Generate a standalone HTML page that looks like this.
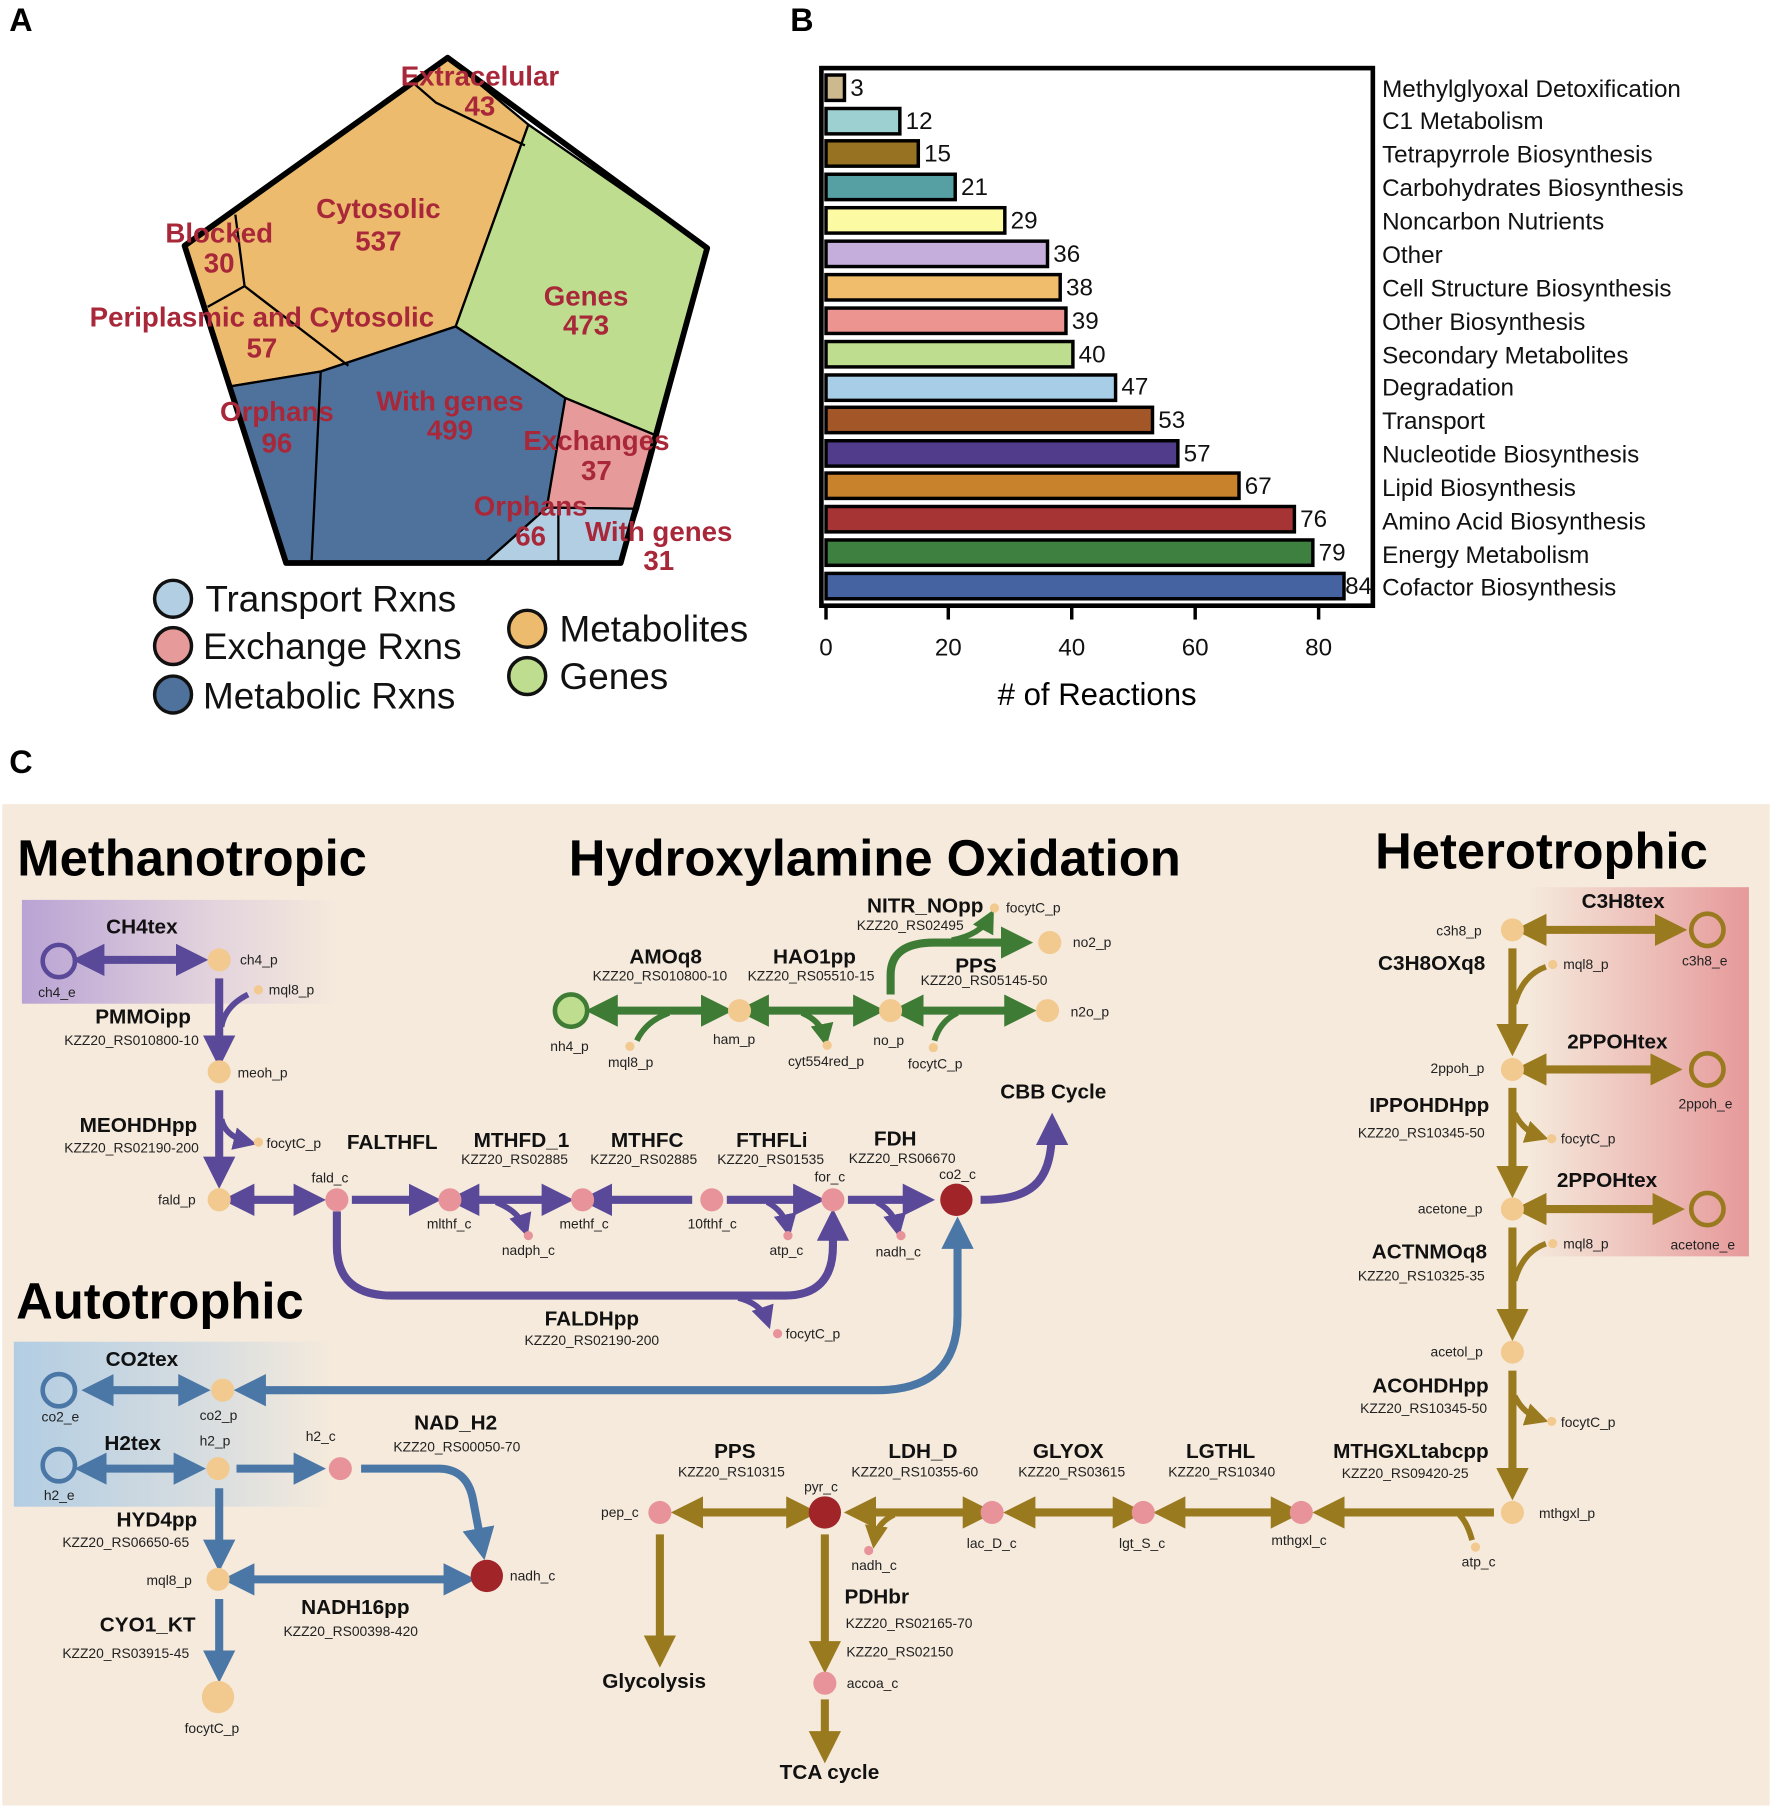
<!DOCTYPE html>
<html><head><meta charset="utf-8"><style>
html,body{margin:0;padding:0;background:#fff;}
svg{display:block;}
text{font-family:"Liberation Sans",Arial,sans-serif;}
.rl{fill:#a8283a;font-weight:bold;font-size:24px;text-anchor:middle;}
.lg{font-size:32px;fill:#111;}
.bl{font-size:21px;fill:#111;}
.t{font-weight:bold;font-size:18px;fill:#111;text-anchor:middle;}
.g{font-size:12px;fill:#222;text-anchor:middle;}
.m{font-size:12px;fill:#222;}
.h{font-weight:bold;font-size:44px;fill:#000;}
</style></head><body>
<svg width="1772" height="1809" viewBox="0 0 1536 1568" xmlns="http://www.w3.org/2000/svg">
<defs>
<marker id="aP" markerWidth="4" markerHeight="4" refX="2.5" refY="2" orient="auto"><path d="M0,0L4,2L0,4z" fill="#5a4898"/></marker>
<marker id="aG" markerWidth="4" markerHeight="4" refX="2.5" refY="2" orient="auto"><path d="M0,0L4,2L0,4z" fill="#3e7b35"/></marker>
<marker id="aB" markerWidth="4" markerHeight="4" refX="2.5" refY="2" orient="auto"><path d="M0,0L4,2L0,4z" fill="#4a77a6"/></marker>
<marker id="aO" markerWidth="4" markerHeight="4" refX="2.5" refY="2" orient="auto"><path d="M0,0L4,2L0,4z" fill="#9a7a1f"/></marker>
<marker id="sP" markerWidth="4" markerHeight="4" refX="1.5" refY="2" orient="auto-start-reverse"><path d="M0,0L4,2L0,4z" fill="#5a4898"/></marker>
<marker id="sG" markerWidth="4" markerHeight="4" refX="1.5" refY="2" orient="auto-start-reverse"><path d="M0,0L4,2L0,4z" fill="#3e7b35"/></marker>
<marker id="sB" markerWidth="4" markerHeight="4" refX="1.5" refY="2" orient="auto-start-reverse"><path d="M0,0L4,2L0,4z" fill="#4a77a6"/></marker>
<marker id="sO" markerWidth="4" markerHeight="4" refX="1.5" refY="2" orient="auto-start-reverse"><path d="M0,0L4,2L0,4z" fill="#9a7a1f"/></marker>
<linearGradient id="gP" x1="0" x2="1"><stop offset="0" stop-color="#b9a3d4"/><stop offset="0.6" stop-color="#e3d3dd"/><stop offset="1" stop-color="#f5eadc"/></linearGradient>
<linearGradient id="gB" x1="0" x2="1"><stop offset="0" stop-color="#b2cde3"/><stop offset="0.6" stop-color="#d7dde0"/><stop offset="1" stop-color="#f5eadc"/></linearGradient>
<linearGradient id="gR" x1="0" x2="1"><stop offset="0" stop-color="#f5eadc"/><stop offset="1" stop-color="#e6999a"/></linearGradient>
</defs>

<!-- Panel A -->
<text x="8" y="27" font-size="28" font-weight="bold">A</text>
<g stroke="#000" stroke-width="2" stroke-linejoin="round">
<polygon points="388,50 458,108 395,283 278,322 199,335 160,213" fill="#edbb6d"/>
<polygon points="458,108 613,215 570,378 490,345 395,283" fill="#bfdd8e"/>
<polygon points="395,283 490,345 474,440 420,488 248,488 199,335 278,322" fill="#4f729c"/>
<polygon points="490,345 570,378 553,441 474,440" fill="#e69a9a"/>
<polygon points="474,440 553,441 538,488 420,488" fill="#b1cee3"/>
<polyline points="356,70 378,89 455,126" fill="none"/>
<polyline points="204,186 212,248 180,266" fill="none"/>
<polyline points="212,248 302,317" fill="none"/>
<line x1="278" y1="322" x2="270" y2="488"/>
<line x1="484" y1="440" x2="484" y2="488"/>
<polygon points="388,50 613,215 538,488 248,488 160,213" fill="none" stroke-width="5"/>
</g>
<text class="rl" x="416" y="74">Extracelular</text><text class="rl" x="416" y="100">43</text>
<text class="rl" x="328" y="189">Cytosolic</text><text class="rl" x="328" y="217">537</text>
<text class="rl" x="190" y="210">Blocked</text><text class="rl" x="190" y="236">30</text>
<text class="rl" x="227" y="283">Periplasmic and Cytosolic</text><text class="rl" x="227" y="310">57</text>
<text class="rl" x="508" y="265">Genes</text><text class="rl" x="508" y="290">473</text>
<text class="rl" x="240" y="365">Orphans</text><text class="rl" x="240" y="392">96</text>
<text class="rl" x="390" y="356">With genes</text><text class="rl" x="390" y="381">499</text>
<text class="rl" x="517" y="390">Exchanges</text><text class="rl" x="517" y="416">37</text>
<text class="rl" x="460" y="447">Orphans</text><text class="rl" x="460" y="473">66</text>
<text class="rl" x="571" y="469">With genes</text><text class="rl" x="571" y="494">31</text>
<g stroke="#111" stroke-width="3">
<circle cx="150" cy="519" r="16" fill="#b1cee3"/>
<circle cx="150" cy="560" r="16" fill="#e69a9a"/>
<circle cx="150" cy="602" r="16" fill="#4f729c"/>
<circle cx="457" cy="545" r="16" fill="#edbb6d"/>
<circle cx="457" cy="586" r="16" fill="#bfdd8e"/>
</g>
<text class="lg" x="178" y="530">Transport Rxns</text>
<text class="lg" x="176" y="571">Exchange Rxns</text>
<text class="lg" x="176" y="614">Metabolic Rxns</text>
<text class="lg" x="485" y="556">Metabolites</text>
<text class="lg" x="485" y="597">Genes</text>

<!-- Panel B -->
<text x="685" y="27" font-size="28" font-weight="bold">B</text>
<g stroke="#000" stroke-width="3">
<rect x="716" y="65" width="16" height="22" fill="#cdb98e"/>
<rect x="716" y="94" width="64" height="22" fill="#9dd0d0"/>
<rect x="716" y="122" width="80" height="22" fill="#977222"/>
<rect x="716" y="151" width="112" height="22" fill="#56a0a3"/>
<rect x="716" y="180" width="155" height="22" fill="#fcfaa3"/>
<rect x="716" y="209" width="192" height="22" fill="#c5aedb"/>
<rect x="716" y="238" width="203" height="22" fill="#f0bd6c"/>
<rect x="716" y="267" width="208" height="22" fill="#ec9590"/>
<rect x="716" y="296" width="214" height="22" fill="#bfdd8e"/>
<rect x="716" y="325" width="251" height="22" fill="#a8cde6"/>
<rect x="716" y="353" width="283" height="22" fill="#a35729"/>
<rect x="716" y="382" width="305" height="22" fill="#513c8c"/>
<rect x="716" y="410" width="358" height="22" fill="#c9822c"/>
<rect x="716" y="439" width="406" height="22" fill="#a73434"/>
<rect x="716" y="468" width="422" height="22" fill="#3e8040"/>
<rect x="716" y="497" width="449" height="22" fill="#4463a0"/>
<rect x="712" y="59" width="478" height="466" fill="none" stroke-width="4"/>
</g>
<g class="bl">
<text x="737" y="83">3</text><text x="785" y="112">12</text><text x="801" y="140">15</text><text x="833" y="169">21</text><text x="876" y="198">29</text><text x="913" y="227">36</text><text x="924" y="256">38</text><text x="929" y="285">39</text><text x="935" y="314">40</text><text x="972" y="342">47</text><text x="1004" y="371">53</text><text x="1026" y="400">57</text><text x="1079" y="428">67</text><text x="1127" y="457">76</text><text x="1143" y="486">79</text><text x="1166" y="515">84</text>
<text x="1198" y="84">Methylglyoxal Detoxification</text><text x="1198" y="112">C1 Metabolism</text><text x="1198" y="141">Tetrapyrrole Biosynthesis</text><text x="1198" y="170">Carbohydrates Biosynthesis</text><text x="1198" y="199">Noncarbon Nutrients</text><text x="1198" y="228">Other</text><text x="1198" y="257">Cell Structure Biosynthesis</text><text x="1198" y="286">Other Biosynthesis</text><text x="1198" y="315">Secondary Metabolites</text><text x="1198" y="343">Degradation</text><text x="1198" y="372">Transport</text><text x="1198" y="401">Nucleotide Biosynthesis</text><text x="1198" y="430">Lipid Biosynthesis</text><text x="1198" y="459">Amino Acid Biosynthesis</text><text x="1198" y="488">Energy Metabolism</text><text x="1198" y="516">Cofactor Biosynthesis</text>
</g>
<g stroke="#000" stroke-width="3"><line x1="716" y1="525" x2="716" y2="537"/><line x1="822" y1="525" x2="822" y2="537"/><line x1="929" y1="525" x2="929" y2="537"/><line x1="1036" y1="525" x2="1036" y2="537"/><line x1="1143" y1="525" x2="1143" y2="537"/></g>
<g class="bl" font-size="22" text-anchor="middle"><text x="716" y="568">0</text><text x="822" y="568">20</text><text x="929" y="568">40</text><text x="1036" y="568">60</text><text x="1143" y="568">80</text></g>
<text x="951" y="611" font-size="27" text-anchor="middle"># of Reactions</text>

<!-- Panel C -->
<text x="8" y="670" font-size="28" font-weight="bold">C</text>
<rect x="2" y="697" width="1532" height="868" fill="#f5eadc"/>
<rect x="19" y="780" width="275" height="90" fill="url(#gP)"/>
<rect x="12" y="1163" width="275" height="143" fill="url(#gB)"/>
<rect x="1325" y="769" width="191" height="320" fill="url(#gR)"/>
<text class="h" x="15" y="759">Methanotropic</text>
<text class="h" x="493" y="759">Hydroxylamine Oxidation</text>
<text class="h" x="1192" y="753">Heterotrophic</text>
<text class="h" x="14" y="1143">Autotrophic</text>

<!-- purple -->
<g fill="none" stroke="#5a4898" stroke-width="7">
<line x1="80" y1="832" x2="170" y2="832" marker-start="url(#sP)" marker-end="url(#aP)"/>
<path d="M190,848 V915" marker-end="url(#aP)"/><path d="M215,862 Q195,872 192,890" stroke-width="5"/>
<path d="M190,945 V1020" marker-end="url(#aP)"/><path d="M192,970 Q195,985 215,990" stroke-width="5" marker-end="url(#aP)"/>
<line x1="210" y1="1040" x2="272" y2="1040" marker-start="url(#sP)" marker-end="url(#aP)"/>
<line x1="305" y1="1040" x2="372" y2="1040" marker-end="url(#aP)"/>
<line x1="405" y1="1040" x2="487" y2="1040" marker-start="url(#sP)" marker-end="url(#aP)"/>
<path d="M430,1042 Q450,1050 455,1065" stroke-width="5" marker-end="url(#aP)"/>
<line x1="520" y1="1040" x2="600" y2="1040" marker-start="url(#sP)"/>
<line x1="630" y1="1040" x2="705" y2="1040" marker-end="url(#aP)"/>
<path d="M665,1042 Q680,1050 683,1065" stroke-width="5" marker-end="url(#aP)"/>
<line x1="735" y1="1040" x2="800" y2="1040" marker-end="url(#aP)"/>
<path d="M760,1042 Q775,1050 778,1065" stroke-width="5" marker-end="url(#aP)"/>
<path d="M850,1040 C900,1040 912,1020 912,975" marker-end="url(#aP)"/>
<path d="M292,1050 V1080 Q292,1123 340,1123 H680 Q722,1123 722,1080 V1058" marker-end="url(#aP)"/>
<path d="M640,1125 Q660,1130 665,1145" stroke-width="5" marker-end="url(#aP)"/>
</g>
<!-- green -->
<g fill="none" stroke="#3e7b35" stroke-width="7">
<line x1="525" y1="876" x2="625" y2="876" marker-start="url(#sG)" marker-end="url(#aG)"/>
<path d="M580,878 Q560,885 552,902" stroke-width="5"/>
<line x1="656" y1="876" x2="757" y2="876" marker-start="url(#sG)" marker-end="url(#aG)"/>
<path d="M695,878 Q712,885 715,900" stroke-width="5" marker-end="url(#aG)"/>
<line x1="790" y1="876" x2="888" y2="876" marker-start="url(#sG)" marker-end="url(#aG)"/>
<path d="M830,878 Q815,885 810,902" stroke-width="5"/>
<path d="M772,862 V845 Q772,817 810,817 H885" marker-end="url(#aG)"/>
<path d="M825,815 Q850,810 858,795" stroke-width="5" marker-end="url(#aG)"/>
</g>
<!-- blue -->
<g fill="none" stroke="#4a77a6" stroke-width="7">
<line x1="88" y1="1205" x2="172" y2="1205" marker-start="url(#sB)" marker-end="url(#aB)"/>
<path d="M830,1072 V1140 Q830,1205 760,1205 H213" marker-start="url(#sB)" marker-end="url(#aB)"/>
<line x1="82" y1="1273" x2="168" y2="1273" marker-start="url(#sB)" marker-end="url(#aB)"/>
<line x1="205" y1="1273" x2="272" y2="1273" marker-end="url(#aB)"/>
<path d="M313,1273 H380 Q405,1273 410,1300 L418,1342" marker-end="url(#aB)"/>
<line x1="190" y1="1290" x2="190" y2="1352" marker-end="url(#aB)"/>
<line x1="210" y1="1369" x2="402" y2="1369" marker-start="url(#sB)" marker-end="url(#aB)"/>
<line x1="190" y1="1386" x2="190" y2="1448" marker-end="url(#aB)"/>
</g>
<!-- olive -->
<g fill="none" stroke="#9a7a1f" stroke-width="7">
<line x1="1330" y1="806" x2="1452" y2="806" marker-start="url(#sO)" marker-end="url(#aO)"/>
<path d="M1311,822 V905" marker-end="url(#aO)"/><path d="M1340,838 Q1320,845 1313,870" stroke-width="5"/>
<line x1="1330" y1="927" x2="1448" y2="927" marker-start="url(#sO)" marker-end="url(#aO)"/>
<path d="M1311,943 V1028" marker-end="url(#aO)"/><path d="M1313,965 Q1320,980 1335,985" stroke-width="5" marker-end="url(#aO)"/>
<line x1="1330" y1="1048" x2="1450" y2="1048" marker-start="url(#sO)" marker-end="url(#aO)"/>
<path d="M1311,1064 V1152" marker-end="url(#aO)"/><path d="M1340,1078 Q1320,1085 1313,1110" stroke-width="5"/>
<path d="M1311,1188 V1290" marker-end="url(#aO)"/><path d="M1313,1210 Q1320,1225 1335,1230" stroke-width="5" marker-end="url(#aO)"/>
<line x1="1295" y1="1311" x2="1148" y2="1311" marker-end="url(#aO)"/>
<path d="M1265,1313 Q1272,1320 1276,1335" stroke-width="5"/>
<line x1="1112" y1="1311" x2="1010" y2="1311" marker-start="url(#sO)" marker-end="url(#aO)"/>
<line x1="975" y1="1311" x2="880" y2="1311" marker-start="url(#sO)" marker-end="url(#aO)"/>
<line x1="845" y1="1311" x2="742" y2="1311" marker-start="url(#sO)" marker-end="url(#aO)"/>
<path d="M775,1313 Q760,1320 758,1335" stroke-width="5" marker-end="url(#aO)"/>
<line x1="692" y1="1311" x2="592" y2="1311" marker-start="url(#sO)" marker-end="url(#aO)"/>
<line x1="572" y1="1330" x2="572" y2="1435" marker-end="url(#aO)"/>
<line x1="715" y1="1330" x2="715" y2="1440" marker-end="url(#aO)"/>
<line x1="715" y1="1473" x2="715" y2="1518" marker-end="url(#aO)"/>
</g>
<!-- nodes -->
<g fill="#f2c98e">
<circle cx="190" cy="832" r="10"/><circle cx="224" cy="858" r="4"/><circle cx="190" cy="929" r="10"/><circle cx="224" cy="990" r="4"/><circle cx="190" cy="1040" r="10"/>
<circle cx="641" cy="876" r="10"/><circle cx="772" cy="876" r="10"/><circle cx="910" cy="817" r="10"/><circle cx="908" cy="876" r="10"/>
<circle cx="546" cy="907" r="4"/><circle cx="717" cy="906" r="4"/><circle cx="809" cy="908" r="4"/><circle cx="862" cy="787" r="4"/>
<circle cx="193" cy="1205" r="10"/><circle cx="189" cy="1273" r="10"/><circle cx="189" cy="1369" r="10"/><circle cx="189" cy="1471" r="14"/>
<circle cx="1311" cy="806" r="10"/><circle cx="1311" cy="927" r="10"/><circle cx="1311" cy="1048" r="10"/><circle cx="1311" cy="1172" r="10"/><circle cx="1311" cy="1311" r="10"/>
<circle cx="1346" cy="836" r="4"/><circle cx="1345" cy="987" r="4"/><circle cx="1346" cy="1078" r="4"/><circle cx="1345" cy="1232" r="4"/><circle cx="1279" cy="1341" r="4"/>
</g>
<g fill="#e8939a">
<circle cx="292" cy="1040" r="10"/><circle cx="390" cy="1040" r="10"/><circle cx="505" cy="1040" r="10"/><circle cx="617" cy="1040" r="10"/><circle cx="722" cy="1040" r="10"/>
<circle cx="458" cy="1071" r="4"/><circle cx="683" cy="1071" r="4"/><circle cx="781" cy="1071" r="4"/><circle cx="674" cy="1156" r="4"/>
<circle cx="295" cy="1273" r="10"/>
<circle cx="572" cy="1311" r="10"/><circle cx="860" cy="1311" r="10"/><circle cx="991" cy="1311" r="10"/><circle cx="1128" cy="1311" r="10"/><circle cx="715" cy="1459" r="10"/><circle cx="753" cy="1344" r="4"/>
</g>
<g fill="#a02428"><circle cx="829" cy="1040" r="14"/><circle cx="422" cy="1366" r="14"/><circle cx="715" cy="1311" r="14"/></g>
<circle cx="51" cy="833" r="14" fill="none" stroke="#5a4898" stroke-width="4"/>
<circle cx="495" cy="876" r="14" fill="#bfdd8e" stroke="#3e7b35" stroke-width="4"/>
<circle cx="51" cy="1205" r="14" fill="none" stroke="#4a77a6" stroke-width="4"/>
<circle cx="51" cy="1270" r="14" fill="none" stroke="#4a77a6" stroke-width="4"/>
<g fill="none" stroke="#9a7a1f" stroke-width="4"><circle cx="1480" cy="806" r="14"/><circle cx="1480" cy="927" r="14"/><circle cx="1480" cy="1048" r="14"/></g>

<!-- labels -->
<text class="t" x="123" y="809">CH4tex</text>
<text class="t" x="124" y="887">PMMOipp</text><text class="g" x="114" y="906">KZZ20_RS010800-10</text>
<text class="t" x="120" y="981">MEOHDHpp</text><text class="g" x="114" y="999">KZZ20_RS02190-200</text>
<text class="t" x="340" y="996">FALTHFL</text>
<text class="t" x="452" y="994">MTHFD_1</text><text class="g" x="446" y="1009">KZZ20_RS02885</text>
<text class="t" x="561" y="994">MTHFC</text><text class="g" x="558" y="1009">KZZ20_RS02885</text>
<text class="t" x="669" y="994">FTHFLi</text><text class="g" x="668" y="1009">KZZ20_RS01535</text>
<text class="t" x="776" y="993">FDH</text><text class="g" x="782" y="1008">KZZ20_RS06670</text>
<text class="t" x="913" y="952">CBB Cycle</text>
<text class="t" x="513" y="1149">FALDHpp</text><text class="g" x="513" y="1166">KZZ20_RS02190-200</text>
<text class="t" x="577" y="835">AMOq8</text><text class="g" x="572" y="850">KZZ20_RS010800-10</text>
<text class="t" x="706" y="835">HAO1pp</text><text class="g" x="703" y="850">KZZ20_RS05510-15</text>
<text class="t" x="802" y="791">NITR_NOpp</text><text class="g" x="789" y="806">KZZ20_RS02495</text>
<text class="t" x="846" y="843">PPS</text><text class="g" x="853" y="854">KZZ20_RS05145-50</text>
<text class="t" x="123" y="1184">CO2tex</text>
<text class="t" x="115" y="1257">H2tex</text>
<text class="t" x="136" y="1323">HYD4pp</text><text class="g" x="109" y="1341">KZZ20_RS06650-65</text>
<text class="t" x="395" y="1239">NAD_H2</text><text class="g" x="396" y="1258">KZZ20_RS00050-70</text>
<text class="t" x="308" y="1399">NADH16pp</text><text class="g" x="304" y="1418">KZZ20_RS00398-420</text>
<text class="t" x="128" y="1414">CYO1_KT</text><text class="g" x="109" y="1437">KZZ20_RS03915-45</text>
<text class="t" x="1407" y="787">C3H8tex</text>
<text class="t" x="1241" y="841">C3H8OXq8</text>
<text class="t" x="1402" y="909">2PPOHtex</text>
<text class="t" x="1239" y="964">IPPOHDHpp</text><text class="g" x="1232" y="986">KZZ20_RS10345-50</text>
<text class="t" x="1393" y="1029">2PPOHtex</text>
<text class="t" x="1239" y="1091">ACTNMOq8</text><text class="g" x="1232" y="1110">KZZ20_RS10325-35</text>
<text class="t" x="1240" y="1207">ACOHDHpp</text><text class="g" x="1234" y="1225">KZZ20_RS10345-50</text>
<text class="t" x="1223" y="1264">MTHGXLtabcpp</text><text class="g" x="1218" y="1281">KZZ20_RS09420-25</text>
<text class="t" x="1058" y="1264">LGTHL</text><text class="g" x="1059" y="1280">KZZ20_RS10340</text>
<text class="t" x="926" y="1264">GLYOX</text><text class="g" x="929" y="1280">KZZ20_RS03615</text>
<text class="t" x="800" y="1264">LDH_D</text><text class="g" x="793" y="1280">KZZ20_RS10355-60</text>
<text class="t" x="637" y="1264">PPS</text><text class="g" x="634" y="1280">KZZ20_RS10315</text>
<text class="t" x="760" y="1390">PDHbr</text><text class="g" x="788" y="1411">KZZ20_RS02165-70</text><text class="g" x="780" y="1436">KZZ20_RS02150</text>
<text class="t" x="567" y="1463">Glycolysis</text>
<text class="t" x="719" y="1542">TCA cycle</text>

<g class="m">
<text x="33" y="864">ch4_e</text><text x="208" y="836">ch4_p</text><text x="233" y="862">mql8_p</text><text x="206" y="934">meoh_p</text><text x="231" y="995">focytC_p</text>
<text x="137" y="1044">fald_p</text><text x="270" y="1025">fald_c</text><text x="370" y="1065">mlthf_c</text><text x="485" y="1065">methf_c</text><text x="596" y="1065">10fthf_c</text><text x="706" y="1024">for_c</text><text x="814" y="1022">co2_c</text>
<text x="435" y="1088">nadph_c</text><text x="667" y="1088">atp_c</text><text x="759" y="1089">nadh_c</text><text x="681" y="1160">focytC_p</text>
<text x="477" y="911">nh4_p</text><text x="527" y="925">mql8_p</text><text x="618" y="905">ham_p</text><text x="683" y="924">cyt554red_p</text><text x="757" y="906">no_p</text><text x="787" y="926">focytC_p</text><text x="872" y="791">focytC_p</text><text x="930" y="821">no2_p</text><text x="928" y="881">n2o_p</text>
<text x="36" y="1232">co2_e</text><text x="173" y="1231">co2_p</text><text x="38" y="1300">h2_e</text><text x="173" y="1253">h2_p</text><text x="265" y="1249">h2_c</text><text x="127" y="1374">mql8_p</text><text x="442" y="1370">nadh_c</text><text x="160" y="1502">focytC_p</text>
<text x="1245" y="811">c3h8_p</text><text x="1355" y="840">mql8_p</text><text x="1458" y="837">c3h8_e</text><text x="1240" y="930">2ppoh_p</text><text x="1455" y="961">2ppoh_e</text><text x="1353" y="991">focytC_p</text>
<text x="1229" y="1052">acetone_p</text><text x="1355" y="1082">mql8_p</text><text x="1448" y="1083">acetone_e</text><text x="1240" y="1176">acetol_p</text><text x="1353" y="1237">focytC_p</text>
<text x="1334" y="1316">mthgxl_p</text><text x="1267" y="1358">atp_c</text><text x="1102" y="1339">mthgxl_c</text><text x="970" y="1342">lgt_S_c</text><text x="838" y="1342">lac_D_c</text><text x="738" y="1361">nadh_c</text><text x="697" y="1293">pyr_c</text><text x="521" y="1315">pep_c</text><text x="734" y="1463">accoa_c</text>
</g>
</svg>
</body></html>
